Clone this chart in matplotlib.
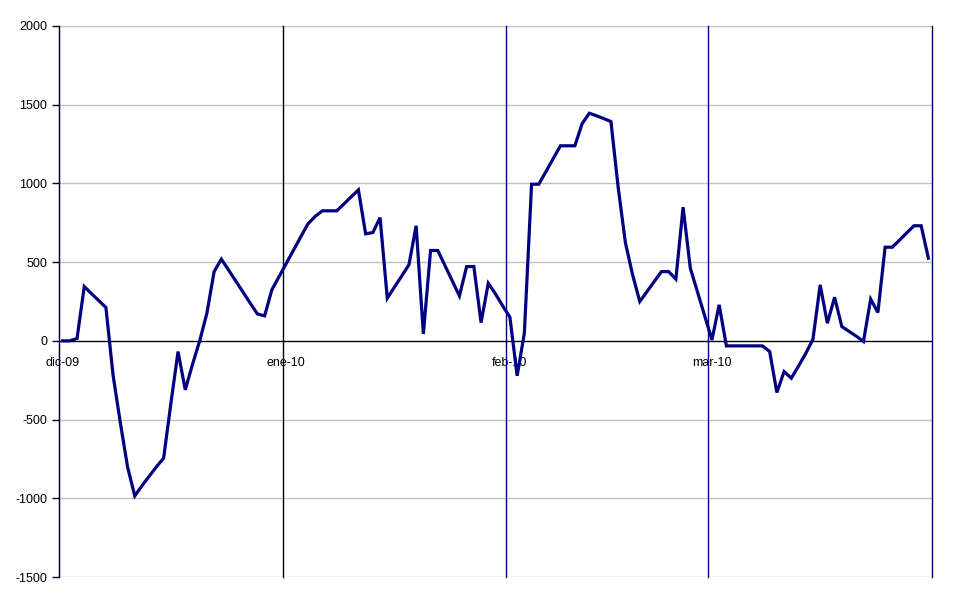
import numpy as np
import matplotlib.pyplot as plt

# valores diarios desde el 1 de diciembre de 2009 hasta el 31 de marzo de 2010
valores = [
    0, 0, 15, 345, 300, 256, 212, -220, -520, -800,
    -985, -920, -860, -800, -745, -400, -68, -311, -150, 0,
    176, 440, 519, 450, 380, 310, 240, 171, 159, 324,
    408, 492, 576, 660, 743, 790, 826, 826, 826, 870,
    915, 959, 680, 688, 783, 271, 342, 412, 483, 731,
    44, 574, 574, 478, 382, 286, 472, 472, 116, 366,
    298, 222, 150, -222, 49, 995, 995, 1076, 1158, 1239,
    1239, 1239, 1379, 1446, 1430, 1412, 1393, 976, 625, 420,
    250, 313, 377, 440, 440, 392, 849, 462, 310, 158,
    6, 229, -32, -32, -32, -32, -32, -32, -68, -328,
    -195, -237, -160, -80, 10, 356, 112, 277, 91, 60,
    30, -4, 265, 180, 595, 595, 640, 686, 731, 731,
    525,
]

# inicio de cada mes (días desde el 1 de diciembre)
inicio_mes = [0, 31, 62, 90, 121]
etiquetas_mes = ['dic-09', 'ene-10', 'feb-10', 'mar-10']
colores_mes = ['#000033', '#000000', '#000080', '#000080', '#000060']

y_ticks = [-1500, -1000, -500, 0, 500, 1000, 1500, 2000]

plt.rcParams['font.family'] = ['Liberation Sans', 'DejaVu Sans']

fig = plt.figure(figsize=(9.7, 6.04), dpi=100)
ax = fig.add_axes([59/970, 1-577/604, (932-59)/970, (577-26)/604])

dias = np.arange(len(valores)) + 0.5

for y in y_ticks:
    if y != 0:
        ax.axhline(y, color='#c0c0c0', lw=1, zorder=1)

for d, c in zip(inicio_mes, colores_mes):
    ax.axvline(d, color=c, lw=1, zorder=2, clip_on=False)

ax.axhline(0, color='#000000', lw=1, zorder=2)

ax.plot(dias, valores, color='#000080', lw=2.3, zorder=3,
        solid_joinstyle='miter')

ax.set_xlim(0, 121)
ax.set_ylim(-1500, 2000)

ax.set_yticks(y_ticks)
ax.set_yticklabels([str(v) for v in y_ticks])
ax.tick_params(axis='y', length=5, width=1, pad=3.5, labelsize=9,
               color='#000033', labelcolor='#000000')

ax.set_xticks([d + 0.5 for d in inicio_mes[:-1]])
ax.set_xticklabels(etiquetas_mes)
ax.spines['bottom'].set_position(('data', 0))
ax.spines['bottom'].set_visible(False)
ax.tick_params(axis='x', length=0, pad=11.5, labelsize=9, labelcolor='#000000')

ax.spines['top'].set_visible(False)
ax.spines['right'].set_visible(False)
ax.spines['left'].set_color('#000033')

fig.savefig('out.png', dpi=100)
